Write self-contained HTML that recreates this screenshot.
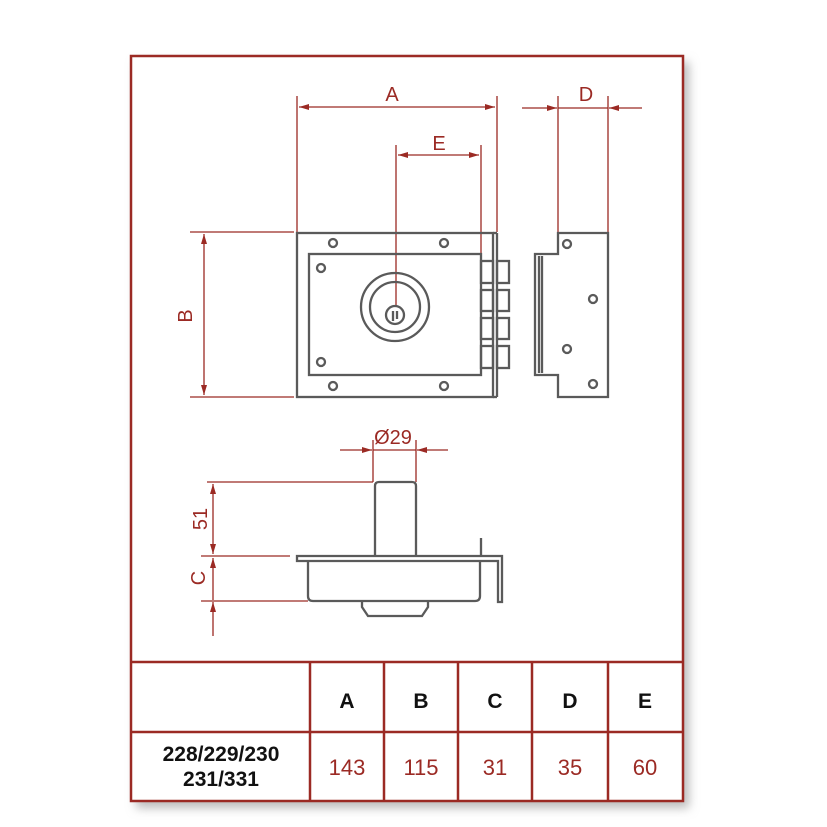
<!DOCTYPE html>
<html><head><meta charset="utf-8"><style>
html,body{margin:0;padding:0;background:#fff;}
svg{display:block;}
</style></head><body>
<svg width="827" height="827" viewBox="0 0 827 827" xmlns="http://www.w3.org/2000/svg" font-family="Liberation Sans, sans-serif">
<defs>
<filter id="sh" x="-5%" y="-5%" width="115%" height="115%"><feGaussianBlur stdDeviation="5"/></filter>
<marker id="ar" viewBox="0 0 10 6" refX="10" refY="3" markerWidth="10" markerHeight="6" orient="auto-start-reverse" markerUnits="userSpaceOnUse"><path d="M0,0 L10,3 L0,6 z" fill="#9b2a24"/></marker>
</defs>
<rect x="136" y="62" width="553" height="746" fill="#bbb" filter="url(#sh)"/>
<rect x="131" y="56" width="552" height="745" fill="#fff" stroke="#9b2a24" stroke-width="2.5"/>

<!-- red dimensions -->
<g stroke="#9b2a24" stroke-width="1.3" fill="none">
<line x1="297" y1="96" x2="297" y2="232"/>
<line x1="497" y1="96" x2="497" y2="232"/>
<line x1="299" y1="107" x2="495" y2="107" marker-start="url(#ar)" marker-end="url(#ar)"/>
<line x1="396" y1="145" x2="396" y2="305"/>
<line x1="481" y1="145" x2="481" y2="254"/>
<line x1="398" y1="155" x2="479" y2="155" marker-start="url(#ar)" marker-end="url(#ar)"/>
<line x1="558" y1="96" x2="558" y2="232"/>
<line x1="608" y1="96" x2="608" y2="232"/>
<line x1="522" y1="108" x2="557" y2="108" marker-end="url(#ar)"/>
<line x1="558" y1="108" x2="608" y2="108"/>
<line x1="642" y1="108" x2="609" y2="108" marker-end="url(#ar)"/>
<line x1="190" y1="232" x2="294" y2="232"/>
<line x1="190" y1="397" x2="294" y2="397"/>
<line x1="204" y1="234" x2="204" y2="395" marker-start="url(#ar)" marker-end="url(#ar)"/>
<!-- bottom -->
<line x1="340" y1="450" x2="372" y2="450" marker-end="url(#ar)"/>
<line x1="373" y1="450" x2="416" y2="450"/>
<line x1="448" y1="450" x2="417" y2="450" marker-end="url(#ar)"/>
<line x1="373" y1="440" x2="373" y2="482"/>
<line x1="416" y1="440" x2="416" y2="482"/>
<line x1="207" y1="482" x2="373" y2="482"/>
<line x1="201" y1="556" x2="290" y2="556"/>
<line x1="201" y1="601" x2="308" y2="601"/>
<line x1="213" y1="484" x2="213" y2="554" marker-start="url(#ar)" marker-end="url(#ar)"/>
<line x1="213" y1="558" x2="213" y2="600" marker-start="url(#ar)"/>
<line x1="213" y1="636" x2="213" y2="602" marker-end="url(#ar)"/>
</g>
<g fill="#9b2a24" font-size="20" text-anchor="middle">
<text x="392" y="101">A</text>
<text x="439" y="150">E</text>
<text x="586" y="101">D</text>
<text x="393" y="444">Ø29</text>
<text transform="translate(192,316) rotate(-90)">B</text>
<text transform="translate(207,519) rotate(-90)">51</text>
<text transform="translate(205,578) rotate(-90)">C</text>
</g>

<!-- gray drawing -->
<g stroke="#5a5a5a" stroke-width="2.3" fill="none">
<rect x="297" y="233" width="196" height="164"/>
<line x1="497" y1="233" x2="497" y2="397"/>
<line x1="493" y1="233" x2="497" y2="233"/><line x1="493" y1="397" x2="497" y2="397"/>
<rect x="309" y="254" width="172" height="121"/>
<rect x="481" y="261" width="12" height="22"/><rect x="497" y="261" width="12" height="22"/>
<rect x="481" y="290" width="12" height="21"/><rect x="497" y="290" width="12" height="21"/>
<rect x="481" y="318" width="12" height="21"/><rect x="497" y="318" width="12" height="21"/>
<rect x="481" y="346" width="12" height="22"/><rect x="497" y="346" width="12" height="22"/>
<circle cx="395" cy="307" r="34"/><circle cx="395" cy="307" r="25"/><circle cx="395" cy="315" r="9"/>
<path d="M393,311 v10 M397,311 v8"/>
<circle cx="333" cy="243" r="4"/><circle cx="444" cy="243" r="4"/>
<circle cx="321" cy="268" r="4"/><circle cx="321" cy="362" r="4"/>
<circle cx="333" cy="386" r="4"/><circle cx="444" cy="386" r="4"/>
<!-- side -->
<path d="M558,233 H608 V397 H558 V375 H535 V254 H558 Z"/>
<line x1="539" y1="256" x2="539" y2="373"/><line x1="542" y1="256" x2="542" y2="373"/>
<circle cx="567" cy="244" r="4"/><circle cx="593" cy="299" r="4"/>
<circle cx="567" cy="349" r="4"/><circle cx="593" cy="384" r="4"/>
<!-- bottom view -->
<path d="M375,556 V486 Q375,482 379,482 H412 Q416,482 416,486 V556"/>
<path d="M297,556 H502 V602 H498 V561 H297 Z"/>
<line x1="481" y1="538" x2="481" y2="556"/>
<path d="M308,561 V596 Q308,601 313,601 H475 Q480,601 480,596 V561"/>
<path d="M362,601 V607 L368,616 H422 L428,607 V601"/>
</g>

<!-- table -->
<g stroke="#9b2a24" stroke-width="2.5">
<line x1="131" y1="662" x2="683" y2="662"/>
<line x1="131" y1="732" x2="683" y2="732"/>
<line x1="310" y1="662" x2="310" y2="801"/>
<line x1="384" y1="662" x2="384" y2="801"/>
<line x1="458" y1="662" x2="458" y2="801"/>
<line x1="532" y1="662" x2="532" y2="801"/>
<line x1="608" y1="662" x2="608" y2="801"/>
</g>
<g font-weight="bold" font-size="21" text-anchor="middle" fill="#111">
<text x="347" y="708">A</text><text x="421" y="708">B</text><text x="495" y="708">C</text>
<text x="570" y="708">D</text><text x="645" y="708">E</text>
<text x="221" y="761">228/229/230</text><text x="221" y="786">231/331</text>
</g>
<g font-size="22" text-anchor="middle" fill="#9b2a24">
<text x="347" y="775">143</text><text x="421" y="775">115</text><text x="495" y="775">31</text>
<text x="570" y="775">35</text><text x="645" y="775">60</text>
</g>
</svg>
</body></html>
